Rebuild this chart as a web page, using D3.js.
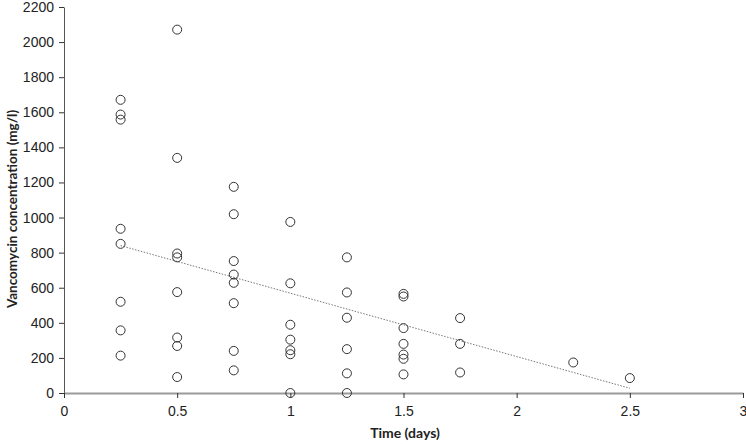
<!DOCTYPE html>
<html><head><meta charset="utf-8">
<script src="https://cdn.jsdelivr.net/npm/d3@7/dist/d3.min.js"></script>
<style>body{margin:0;background:#fff}svg{display:block}</style>
</head><body><div id="chart"></div>
<script>
const timeDays = [0.25,0.25,0.25,0.25,0.25,0.25,0.25,0.25,
  0.5,0.5,0.5,0.5,0.5,0.5,0.5,0.5,
  0.75,0.75,0.75,0.75,0.75,0.75,0.75,0.75,
  1,1,1,1,1,1,1,
  1.25,1.25,1.25,1.25,1.25,1.25,
  1.5,1.5,1.5,1.5,1.5,1.5,1.5,
  1.75,1.75,1.75,
  2.25,2.5];
const concentration = [1671,1587,1558,936,850,520,357,213,
  2071,1340,795,773,575,316,268,91,
  1175,1019,752,675,628,512,240,129,
  975,625,389,304,244,221,0,
  773,573,429,250,112,0,
  565,550,370,280,219,195,106,
  427,280,117,
  174,85];
const trendX = [0.25, 2.5];
const trendY = [840, 27];
const xTicks = [0,0.5,1,1.5,2,2.5,3];
const yTicks = [0,200,400,600,800,1000,1200,1400,1600,1800,2000,2200];
const xLabel = "Time (days)";
const yLabel = "Vancomycin concentration (mg/l)";

const W=746,H=444;
const svg=d3.select("#chart").append("svg").attr("width",W).attr("height",H)
  .style("font-family","Lato, 'Open Sans', sans-serif");
const x=d3.scaleLinear().domain([0,3]).range([64,743]);
const y=d3.scaleLinear().domain([0,2200]).range([393,7]);

// y axis
const ya=svg.append("g").attr("transform",`translate(${x(0)},0)`)
  .call(d3.axisLeft(y).tickValues(yTicks).tickFormat(d=>String(d)).tickSize(5).tickSizeOuter(0));
ya.select(".domain").attr("stroke","#555").attr("stroke-width",1);
ya.selectAll(".tick line").attr("stroke","#333");
ya.selectAll(".tick text").attr("font-size",14).attr("fill","#222").attr("x",-10);

// x axis
const xa=svg.append("g").attr("transform",`translate(0,${y(0)})`)
  .call(d3.axisBottom(x).tickValues(xTicks).tickFormat(d=>String(d)).tickSize(5).tickSizeOuter(0));
xa.select(".domain").attr("stroke","#9a9a9a").attr("stroke-width",2);
xa.selectAll(".tick line").attr("stroke","#333");
xa.selectAll(".tick text").attr("font-size",14).attr("fill","#222").attr("dy","1.05em");

// trend line
svg.append("line")
  .attr("x1",x(trendX[0])).attr("y1",y(trendY[0]))
  .attr("x2",x(trendX[1])).attr("y2",y(trendY[1]))
  .attr("stroke","#777").attr("stroke-width",1).attr("stroke-dasharray","1.5,1.5");

// points
svg.append("g").selectAll("circle").data(timeDays.map((t,i)=>[t,concentration[i]]))
  .join("circle").attr("cx",d=>x(d[0])).attr("cy",d=>y(d[1])).attr("r",4.5)
  .attr("fill","none").attr("stroke","#333").attr("stroke-width",1);

svg.append("text").attr("x",405).attr("y",438).attr("text-anchor","middle")
  .attr("font-size",14).attr("font-weight","bold").attr("fill","#222").text(xLabel);
svg.append("text").attr("transform","translate(17,209) rotate(-90)").attr("text-anchor","middle")
  .attr("font-size",13.5).attr("font-weight","bold").attr("fill","#222").text(yLabel);
</script></body></html>
